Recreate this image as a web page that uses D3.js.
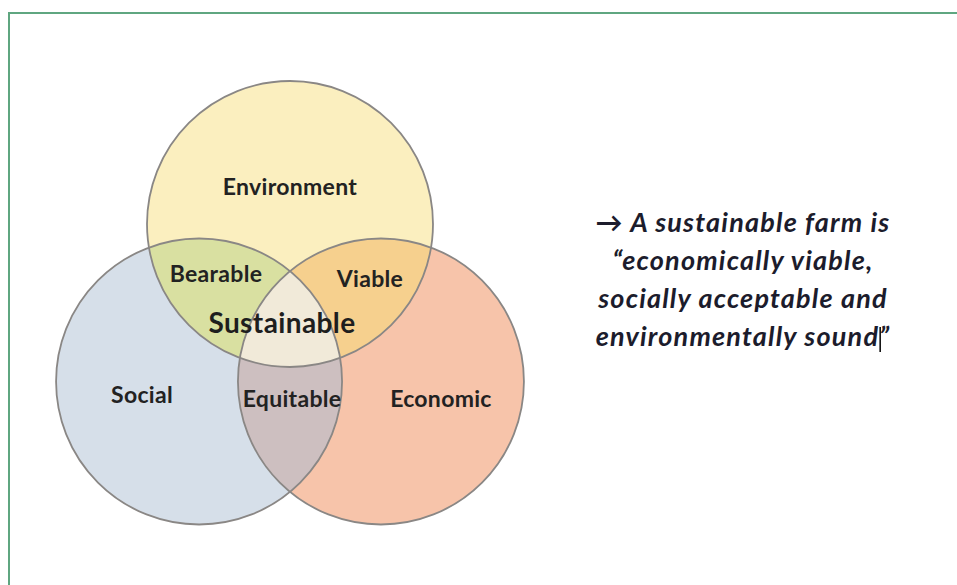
<!DOCTYPE html>
<html>
<head>
<meta charset="utf-8">
<script src="https://cdn.jsdelivr.net/npm/d3@7"></script>
<style>
  html, body { margin: 0; padding: 0; background: #fff; }
  svg { display: block; }
</style>
</head>
<body>
<script>
// the three pillars and what their overlaps are called
var sets = ['Environment', 'Social', 'Economic'];
var pairs = [
  { sets: ['Environment', 'Social'], label: 'Bearable' },
  { sets: ['Environment', 'Economic'], label: 'Viable' },
  { sets: ['Social', 'Economic'], label: 'Equitable' }
];
var core = 'Sustainable';
var quote = [
  '\u2192 A sustainable farm is',
  '\u201Ceconomically viable,',
  'socially acceptable and',
  'environmentally sound\u201D'
];

var _w = 957, _h = 585;
var fills = {
  'Environment': '#fbefbf', 'Social': '#d6dfe9', 'Economic': '#f7c4aa',
  'Bearable': '#d9e0a1', 'Viable': '#f6d08e', 'Equitable': '#cdbfc0',
  'Sustainable': '#f1ead9'
};

var svg = d3.select('body').append('svg')
  .attr('width', _w).attr('height', _h);

// green frame (top + left edges only)
svg.append('path')
  .attr('d', 'M9,585 V13 H957')
  .attr('fill', 'none')
  .attr('stroke', '#5fa680')
  .attr('stroke-width', 2);

// layout: centres on a triangle around a centroid, in unit space
var x = d3.scaleLinear().domain([-1, 1]).range([185, 395]);
var y = d3.scaleLinear().domain([-1, 1]).range([224, 434]);
var R = 143;
var angles = { 'Environment': -90, 'Social': 150, 'Economic': 30 };
var circ = sets.map(function(s) {
  var a = angles[s] * Math.PI / 180;
  return { name: s, cx: x(Math.cos(a)), cy: y(Math.sin(a)) };
});
var byName = {};
circ.forEach(function(c) { byName[c.name] = c; });

var defs = svg.append('defs');
circ.forEach(function(c, i) {
  defs.append('clipPath').attr('id', 'clip' + i)
    .append('circle').attr('cx', c.cx).attr('cy', c.cy).attr('r', R);
});
// nested clip for env ∩ social
defs.append('clipPath').attr('id', 'clipES')
  .attr('clip-path', 'url(#clip0)')
  .append('circle').attr('cx', circ[1].cx).attr('cy', circ[1].cy).attr('r', R);

var g = svg.append('g');
g.selectAll('circle.base').data(circ).enter().append('circle')
  .attr('class', 'base')
  .attr('cx', function(d) { return d.cx; })
  .attr('cy', function(d) { return d.cy; })
  .attr('r', R)
  .attr('fill', function(d) { return fills[d.name]; });

pairs.forEach(function(p) {
  var b = byName[p.sets[1]];
  g.append('circle')
    .attr('cx', b.cx).attr('cy', b.cy).attr('r', R)
    .attr('clip-path', 'url(#clip' + sets.indexOf(p.sets[0]) + ')')
    .attr('fill', fills[p.label]);
});
g.append('circle')
  .attr('cx', circ[2].cx).attr('cy', circ[2].cy).attr('r', R)
  .attr('clip-path', 'url(#clipES)')
  .attr('fill', fills[core]);

g.selectAll('circle.edge').data(circ).enter().append('circle')
  .attr('class', 'edge')
  .attr('cx', function(d) { return d.cx; })
  .attr('cy', function(d) { return d.cy; })
  .attr('r', R)
  .attr('fill', 'none')
  .attr('stroke', '#8a8785')
  .attr('stroke-width', 1.8);

// label spots relative to the circle geometry
var E = byName.Environment, S = byName.Social, C = byName.Economic;
var spot = {
  'Environment': [E.cx, E.cy - 29],
  'Social': [S.cx - 57, S.cy + 21],
  'Economic': [C.cx + 60, C.cy + 25],
  'Bearable': [216, E.cy + 58],
  'Viable': [370, E.cy + 63],
  'Equitable': [292, S.cy + 25]
};

var labels = sets.concat(pairs.map(function(p) { return p.label; }));
svg.selectAll('text.lab').data(labels).enter().append('text')
  .attr('class', 'lab')
  .attr('x', function(d) { return spot[d][0]; })
  .attr('y', function(d) { return spot[d][1]; })
  .attr('text-anchor', 'middle')
  .attr('font-family', 'Lato, sans-serif')
  .attr('font-weight', 'bold')
  .attr('font-size', 23)
  .attr('letter-spacing', 0.3)
  .attr('fill', '#222')
  .text(function(d) { return d; });

svg.append('text')
  .attr('x', 282).attr('y', E.cy + 109)
  .attr('text-anchor', 'middle')
  .attr('font-family', 'Lato, sans-serif')
  .attr('font-weight', 'bold')
  .attr('font-size', 28)
  .attr('letter-spacing', 0.4)
  .attr('fill', '#1e1e1e')
  .text(core);

// quote on the right
var qt = svg.append('text')
  .attr('text-anchor', 'middle')
  .attr('font-family', 'Lato, sans-serif')
  .attr('font-style', 'italic')
  .attr('font-weight', 'bold')
  .attr('font-size', 27)
  .attr('letter-spacing', 1.2)
  .attr('fill', '#1c1c2c');
qt.selectAll('tspan').data(quote).enter().append('tspan')
  .attr('x', 743)
  .attr('y', function(d, i) { return 232 + i * 38; })
  .text(function(d) { return d; });

// the text cursor sitting before the closing quote
var node = qt.node();
var before = quote.slice(0, 3).join('').length + quote[3].length - 1;
var pos = node.getStartPositionOfChar(before);
svg.append('line')
  .attr('x1', pos.x + 1).attr('x2', pos.x + 1)
  .attr('y1', pos.y - 19).attr('y2', pos.y + 6)
  .attr('stroke', '#111').attr('stroke-width', 1.6);
</script>
</body>
</html>
